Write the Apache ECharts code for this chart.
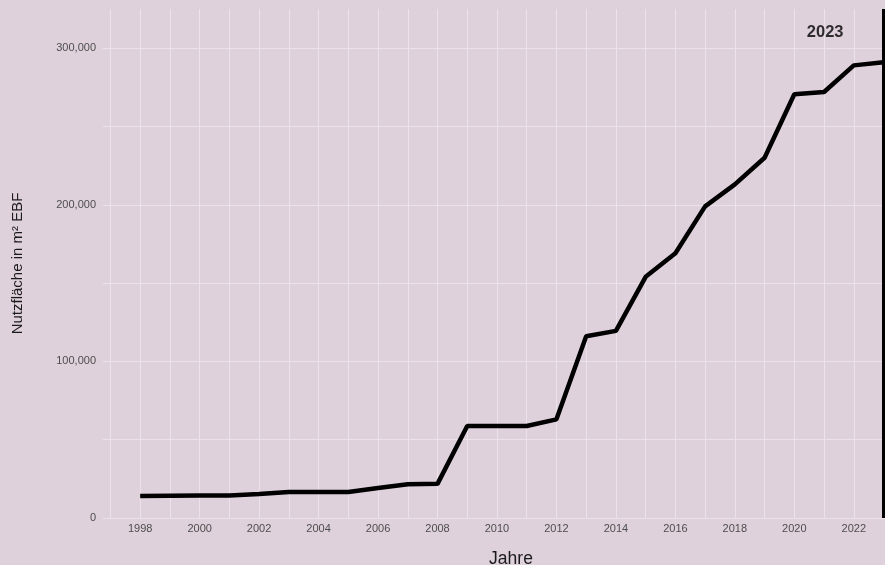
<!DOCTYPE html>
<html><head><meta charset="utf-8">
<script src="https://cdn.jsdelivr.net/npm/echarts@6/dist/echarts.min.js"></script>
<style>html,body{margin:0;padding:0;background:#dfd1dc;}#c{width:885px;height:565px;}</style>
</head><body><div id="c"></div>
<script>
var years = [1998,1999,2000,2001,2002,2003,2004,2005,2006,2007,2008,2009,2010,2011,2012,2013,2014,2015,2016,2017,2018,2019,2020,2021,2022,2023];
var area = [14000,14200,14300,14300,15300,16600,16600,16600,19200,21500,21800,58700,58700,58700,63000,116000,119500,154000,169000,199000,213000,230000,270600,272000,289000,291000];
var gridYears = [1997,1998,1999,2000,2001,2002,2003,2004,2005,2006,2007,2008,2009,2010,2011,2012,2013,2014,2015,2016,2017,2018,2019,2020,2021,2022];
var labelYears = [1998,2000,2002,2004,2006,2008,2010,2012,2014,2016,2018,2020,2022];
var markYear = 2023;
var markText = '2023';

var chart = echarts.init(document.getElementById('c'));
var font = 'Liberation Sans, Arial, sans-serif';
chart.setOption({
  backgroundColor: '#dfd1dc',
  animation: false,
  grid: {left: 103, right: 0, top: 9, bottom: 47, outerBoundsMode: 'none', containLabel: false},
  xAxis: {
    type: 'value', min: 1996.75, max: 2023.05,
    name: 'Jahre', nameLocation: 'middle', nameGap: 32,
    nameTextStyle: {fontFamily: font, fontSize: 17.5, color: '#1a1a1a', padding: [0,0,0,34]},
    axisLine: {show: false},
    axisTick: {show: false, customValues: gridYears},
    axisLabel: {customValues: labelYears, fontFamily: font, fontSize: 11, color: '#4d4d4d', margin: 5,
      formatter: function(v){ return String(v); }},
    splitLine: {show: true, lineStyle: {color: '#ebe3e9', width: 1}}
  },
  yAxis: {
    type: 'value', min: 0, max: 325000, interval: 50000,
    name: 'Nutzfläche in m² EBF', nameLocation: 'middle', nameGap: 78,
    nameTextStyle: {fontFamily: font, fontSize: 15, color: '#1a1a1a'},
    axisLine: {show: false}, axisTick: {show: false},
    axisLabel: {fontFamily: font, fontSize: 11, color: '#4d4d4d', margin: 7,
      formatter: function(v){ return v % 100000 === 0 ? v.toLocaleString('en-US') : ''; }},
    splitLine: {show: true, showMaxLine: false, lineStyle: {color: '#ebe3e9', width: 1}}
  },
  series: [{
    type: 'line',
    data: years.map(function(y,i){return [y, area[i]];}),
    symbol: 'none',
    lineStyle: {color: '#000', width: 4.5},
    markLine: {
      silent: true, symbol: 'none',
      lineStyle: {color: '#000', width: 3, type: 'solid'},
      label: {show: false},
      data: [{xAxis: markYear}]
    }
  }, {
    type: 'scatter',
    data: [[markYear, 310000]],
    symbolSize: 0,
    label: {show: true, formatter: markText, position: 'left', distance: 40,
      fontFamily: font, fontSize: 16.5, fontWeight: 'bold', color: '#000'}
  }]
});
</script></body></html>
